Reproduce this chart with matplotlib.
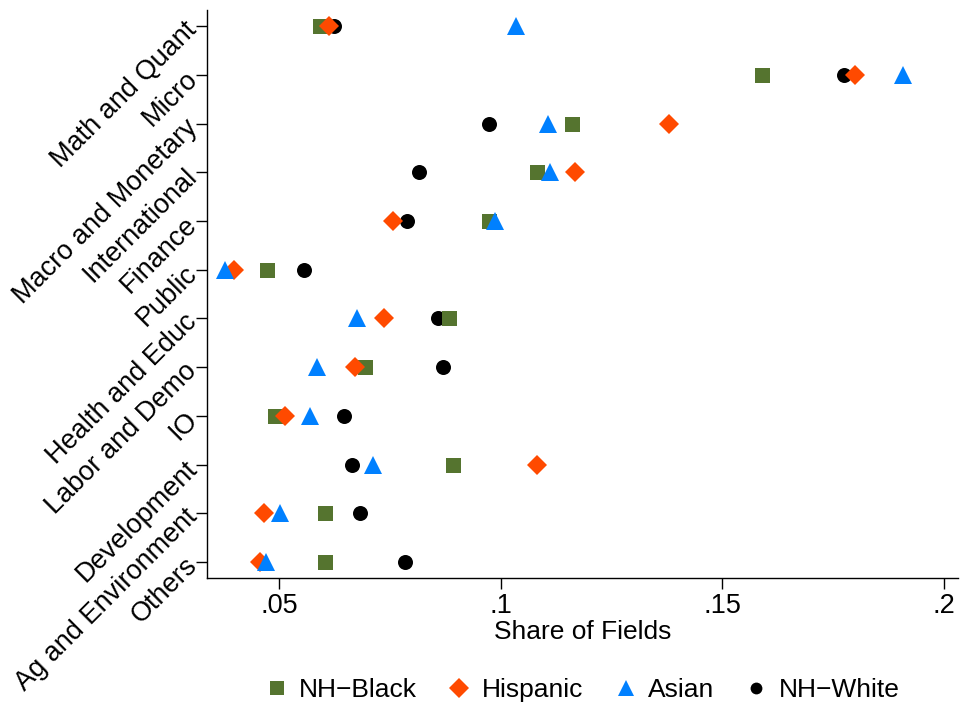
import matplotlib.pyplot as plt
from matplotlib.lines import Line2D

plt.rcParams['font.family'] = ['Liberation Sans', 'DejaVu Sans']

fields = ['Math and Quant', 'Micro', 'Macro and Monetary', 'International', 'Finance',
          'Public', 'Health and Educ', 'Labor and Demo', 'IO', 'Development',
          'Ag and Environment', 'Others']

nh_black = [0.0592, 0.1590, 0.1162, 0.1081, 0.0974, 0.0474, 0.0883, 0.0694, 0.0490, 0.0892, 0.0604, 0.0604]
hispanic = [0.0613, 0.1800, 0.1380, 0.1167, 0.0757, 0.0399, 0.0737, 0.0671, 0.0514, 0.1081, 0.0466, 0.0457]
asian = [0.1034, 0.1908, 0.1106, 0.1111, 0.0987, 0.0378, 0.0677, 0.0585, 0.0570, 0.0712, 0.0502, 0.0470]
nh_white = [0.0624, 0.1775, 0.0973, 0.0815, 0.0789, 0.0556, 0.0859, 0.0869, 0.0646, 0.0665, 0.0682, 0.0784]

xticks = [0.05, 0.1, 0.15, 0.2]
xticklabels = ['.05', '.1', '.15', '.2']

green = '#55742f'
orange = '#ff4a00'
blue = '#0080ff'

fig = plt.figure(figsize=(9.63, 7.10), dpi=100)
ax = fig.add_axes([0.2147, 0.1859, 0.7801, 0.8000])

ypos = list(range(len(fields), 0, -1))

# drawing order matters for overlaps: white first, asian on top
ax.plot(nh_white, ypos, 'o', color='black', ms=10.8, mew=0, ls='none', zorder=3)
ax.plot(nh_black, ypos, 's', color=green, ms=10.8, mew=0, ls='none', zorder=4)
ax.plot(hispanic, ypos, 'D', color=orange, ms=10.2, mew=0, ls='none', zorder=5)
ax.plot(asian, ypos, '^', color=blue, ms=13, mew=0, ls='none', zorder=6)

ax.set_xlim(0.0337, 0.2032)
ax.set_ylim(0.67, 12.33)
ax.set_xticks(xticks)
ax.set_xticklabels(xticklabels)
ax.set_yticks(ypos)
ax.set_yticklabels(fields, rotation=45, ha='right', va='center', rotation_mode='anchor')

for side in ['top', 'right']:
    ax.spines[side].set_visible(False)
for side in ['left', 'bottom']:
    ax.spines[side].set_linewidth(1.0)

ax.tick_params(axis='both', direction='out', length=7.7, width=1.0, labelsize=19.5, colors='black')
ax.tick_params(axis='y', pad=2)
ax.tick_params(axis='x', pad=3)
ax.set_xlabel('Share of Fields', fontsize=19, labelpad=1)

handles = [
    Line2D([], [], marker='s', color=green, ls='none', ms=10, mew=0),
    Line2D([], [], marker='D', color=orange, ms=10, ls='none', mew=0),
    Line2D([], [], marker='^', color=blue, ms=11, ls='none', mew=0),
    Line2D([], [], marker='o', color='black', ms=8.5, ls='none', mew=0),
]
labels = ['NH\u2212Black', 'Hispanic', 'Asian', 'NH\u2212White']
fig.legend(handles, labels, loc='center', bbox_to_anchor=(583 / 963, 1 - 690 / 710),
           ncol=4, frameon=False, fontsize=19, handlelength=0.8, handletextpad=0.45,
           columnspacing=1.2, borderaxespad=0)

fig.savefig('out.png', dpi=100)
